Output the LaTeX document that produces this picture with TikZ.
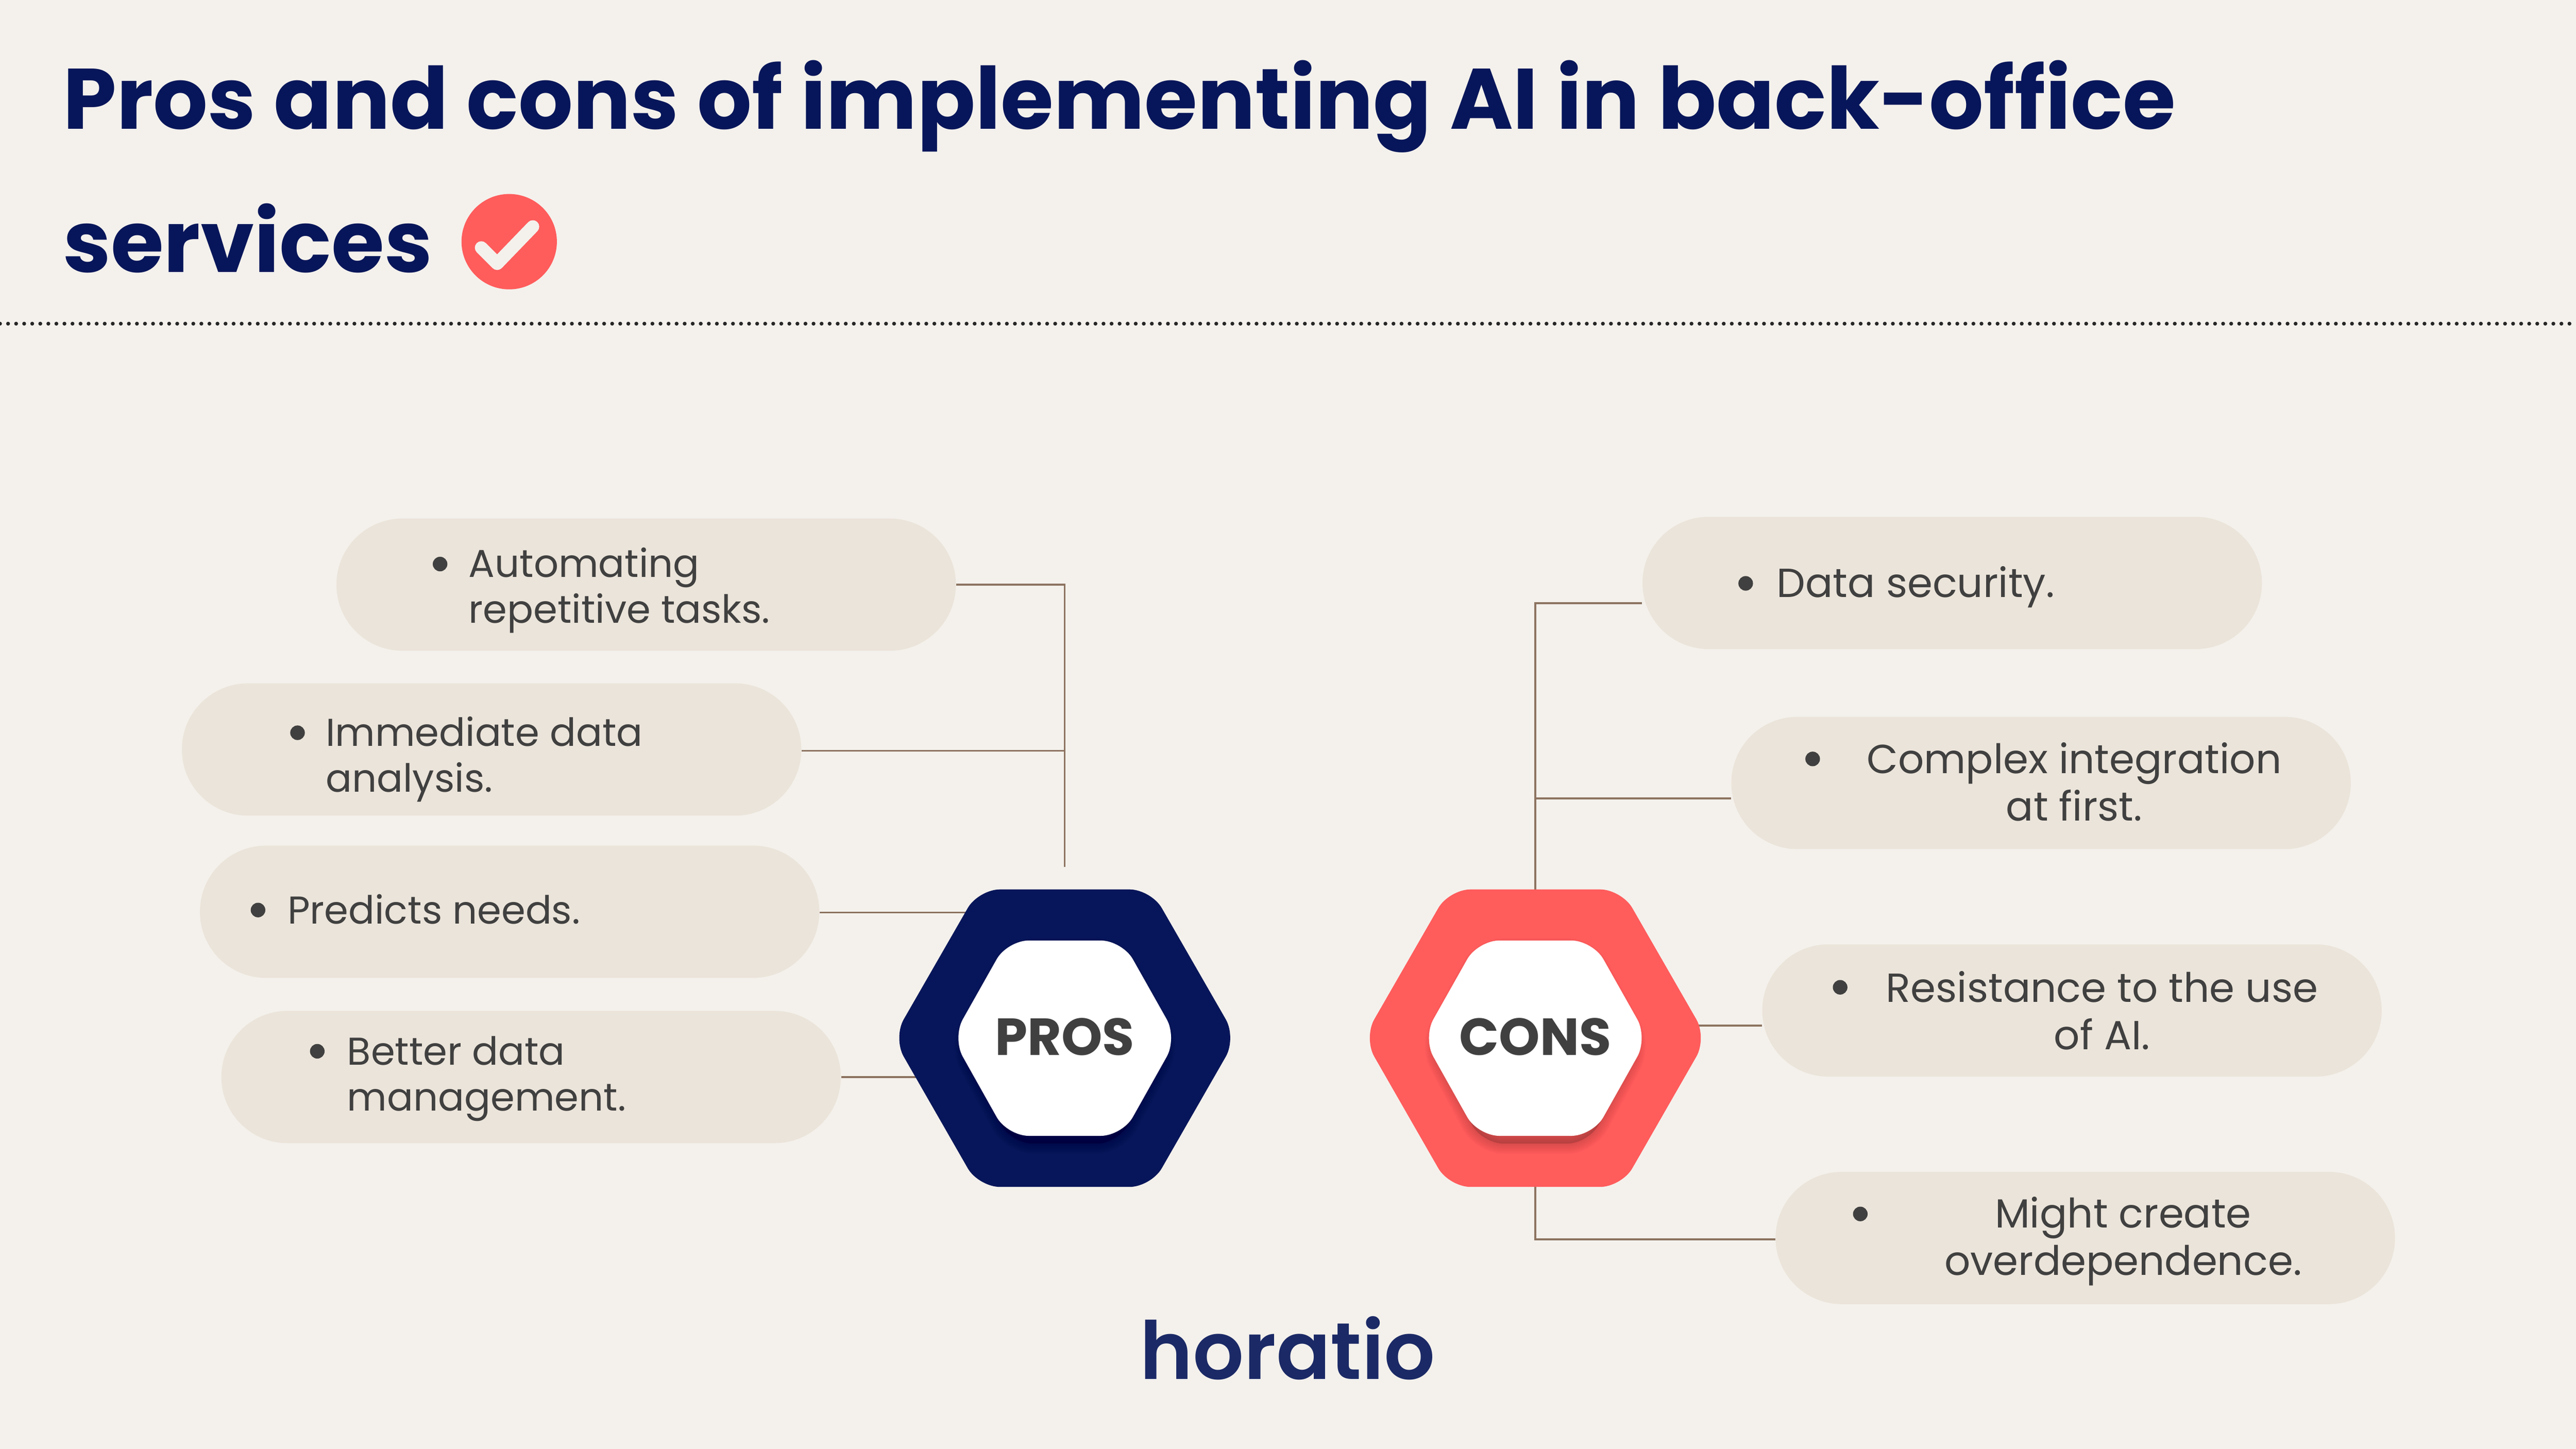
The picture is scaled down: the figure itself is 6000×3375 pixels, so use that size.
\documentclass[tikz,border=0pt]{standalone}
\usepackage{fontspec}
\setmainfont{Poppins}
\newfontfamily\popbold{Poppins}[UprightFont=* Bold]
\newfontfamily\popsemi{Poppins}[UprightFont=* SemiBold]
\usetikzlibrary{shapes.misc}
\definecolor{bgc}{HTML}{F4F1EC}
\definecolor{navy}{HTML}{07165A}
\definecolor{coral}{HTML}{FF5C5C}
\definecolor{pillc}{HTML}{EBE4DA}
\definecolor{inkc}{HTML}{404040}
\definecolor{linec}{HTML}{8C7360}
\definecolor{logoc}{HTML}{1B2966}
\tikzset{
  pill/.style={rounded rectangle,fill=pillc,minimum width=14.42cm,minimum height=3.08cm,inner sep=0pt},
  itemL/.style={anchor=west,align=left,inner sep=0pt,text=inkc,font=\fontsize{25.7}{30.5}\selectfont},
  itemR/.style={anchor=west,align=left,inner sep=0pt,text=inkc,font=\fontsize{26.9}{31.5}\selectfont},
  itemC/.style={anchor=center,align=center,inner sep=0pt,text=inkc,font=\fontsize{26.9}{31.5}\selectfont},
  bul/.style={circle,fill=inkc,minimum size=0.34cm,inner sep=0pt},
  conn/.style={draw=linec,line width=0.04cm},
  hexlabel/.style={inner sep=0pt,text=inkc,font=\popbold\fontsize{34.5}{38}\selectfont},
  title/.style={anchor=base west,inner sep=0pt,text=navy,font=\popbold\fontsize{56.85}{60}\selectfont}
}
\newcommand{\hexpath}[7]{(#1,#5) -- (#2,#6) -- (#3,#6) -- (#4,#5) -- (#3,#7) -- (#2,#7) -- cycle}
\begin{document}
\begin{tikzpicture}[x=0.01cm,y=-0.01cm]
\useasboundingbox (0,0) rectangle (6000,3375);
\fill[bgc] (0,0) rectangle (6000,3375);
% title
\node[title] (t1) at (146,300) {Pros and cons of implementing AI in back-office};
\node[title] (t2) at (146,634) {services};
\node[circle,fill=coral,minimum size=2.22cm,inner sep=0pt] (chk) at (1186,563) {};
\draw[bgc,line width=0.3cm,line cap=round,line join=round] (1121,577) -- (1158,614) -- (1241,528);
\draw[black!85,line width=0.09cm,line cap=round,dash pattern=on 0cm off 0.1875cm] (0,754) -- (6000,754);
% pills
\node[pill] (p1) at (1505,1362) {};
\node[pill] (p2) at (1145,1746) {};
\node[pill] (p3) at (1187,2124) {};
\node[pill] (p4) at (1237,2509) {};
\node[pill] (c1) at (4547,1358) {};
\node[pill] (c2) at (4754,1824) {};
\node[pill] (c3) at (4826,2354) {};
\node[pill] (c4) at (4857,2884) {};
% hub anchors and junctions
\coordinate (prosTop) at (2480,2019);
\coordinate (consTop) at (3576,2072);
\coordinate (consBot) at (3576,2765);
\coordinate (j1) at (2480,1362);
\coordinate (j2) at (2480,1749);
\coordinate (k1) at (3576,1405);
\coordinate (k2) at (3576,1860);
\coordinate (k4) at (3576,2887);
\coordinate (hp3) at (2300,2126);
\coordinate (hp4) at (2200,2509);
\coordinate (hc3) at (3900,2389);
% connectors
\draw[conn] (p1.east) -- (j1) -- (prosTop);
\draw[conn] (p2.east |- j2) -- (j2);
\draw[conn] (p3.east |- hp3) -- (hp3);
\draw[conn] (p4.east) -- (hp4);
\draw[conn] (consTop) -- (k1) -- (k1 -| c1.west);
\draw[conn] (k2) -- (k2 -| c2.west);
\draw[conn] (hc3) -- (hc3 -| c3.west);
\draw[conn] (consBot) -- (k4) -- (k4 -| c4.west);
% hexagons
\fill[navy,rounded corners=0.5cm] \hexpath{2080}{2279}{2681}{2880}{2418}{2072}{2765};
\fill[coral,rounded corners=0.5cm] \hexpath{3176}{3375}{3777}{3976}{2418}{2072}{2765};
\foreach \w in {1,...,12}{
  \fill[black,opacity=0.01,rounded corners=0.5cm,draw=black,line width=\w*0.04cm] \hexpath{2233}{2356}{2604}{2727}{2436}{2209}{2664};
  \fill[black,opacity=0.01,rounded corners=0.5cm,draw=black,line width=\w*0.04cm] \hexpath{3329}{3452}{3700}{3823}{2436}{2209}{2664};
}
\fill[white,rounded corners=0.5cm] \hexpath{2218}{2346}{2614}{2742}{2418}{2191}{2646};
\fill[white,rounded corners=0.5cm] \hexpath{3314}{3442}{3710}{3838}{2418}{2191}{2646};
\node[hexlabel] (pros) at (2480,2415) {PROS};
\node[hexlabel] (cons) at (3576,2415) {CONS};
% items
\node[bul] (b1) at (1025,1314) {};
\node[itemL] (i1) at (1091,1375) {Automating\\repetitive tasks.};
\node[bul] (b2) at (693,1707) {};
\node[itemL] (i2) at (758,1769) {Immediate data\\analysis.};
\node[bul] (b3) at (601,2120) {};
\node[itemL] (i3) at (669,2118) {Predicts needs.};
\node[bul] (b4) at (739,2449) {};
\node[itemL] (i4) at (808,2513) {Better data\\management.};
\node[bul] (d1) at (4066,1359) {};
\node[itemR] (e1) at (4138,1368) {Data security.};
\node[bul] (d2) at (4222,1768) {};
\node[itemC] (e2) at (4831,1821) {Complex integration\\at first.};
\node[bul] (d3) at (4286,2300) {};
\node[itemC] (e3) at (4896,2354) {Resistance to the use\\of AI.};
\node[bul] (d4) at (4333,2828) {};
\node[itemC] (e4) at (4945,2892) {Might create\\overdependence.};
% logo
\node[inner sep=0pt,text=logoc,font=\popsemi\fontsize{53.1}{60}\selectfont] (logo) at (2999,3140) {horatio};
\end{tikzpicture}
\end{document}
